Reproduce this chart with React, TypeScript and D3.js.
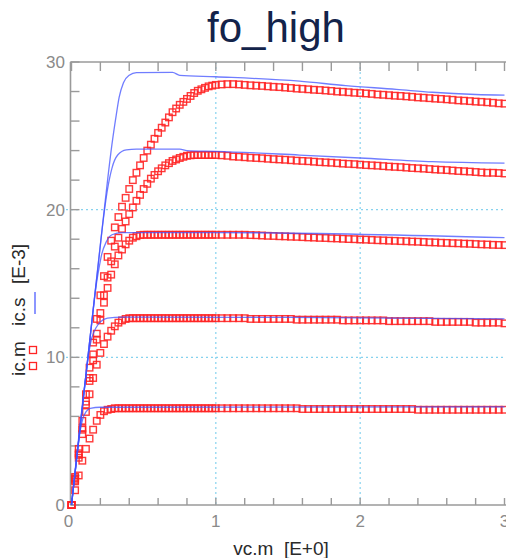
import React from 'react';
import * as d3 from 'd3';

// vce sweep of the measurement (finer steps in the knee region)
const vce = [
  0, 0.025, 0.05, 0.075, 0.1, 0.125, 0.15, 0.175, 0.2, 0.225,
  0.25, 0.275, 0.3, 0.325, 0.35, 0.375, 0.4, 0.425, 0.45, 0.475,
  0.5, 0.525, 0.55, 0.575, 0.6, 0.625, 0.65, 0.675, 0.7, 0.725,
  0.75, 0.775, 0.8, 0.825, 0.85, 0.875, 0.9, 0.925, 0.95, 0.975,
  1.0, 1.04, 1.08, 1.12, 1.16, 1.2, 1.24, 1.28, 1.32, 1.36,
  1.4, 1.44, 1.48, 1.52, 1.56, 1.6, 1.64, 1.68, 1.72, 1.76,
  1.8, 1.84, 1.88, 1.92, 1.96, 2.0, 2.04, 2.08, 2.12, 2.16,
  2.2, 2.24, 2.28, 2.32, 2.36, 2.4, 2.44, 2.48, 2.52, 2.56,
  2.6, 2.64, 2.68, 2.72, 2.76, 2.8, 2.84, 2.88, 2.92, 2.96,
  3.0,
];

// measured ic [E-3], one array per base current step
const icM1 = [
  0, 1.0, 2.0, 3.0, 3.8, 4.5, 5.1, 5.7, 6.1, 6.35,
  6.45, 6.5, 6.55, 6.55, 6.55, 6.55, 6.55, 6.55, 6.55, 6.55,
  6.55, 6.55, 6.55, 6.55, 6.55, 6.55, 6.55, 6.55, 6.55, 6.55,
  6.55, 6.55, 6.55, 6.55, 6.55, 6.55, 6.55, 6.55, 6.55, 6.55,
  6.55, 6.55, 6.55, 6.55, 6.55, 6.55, 6.55, 6.55, 6.55, 6.55,
  6.55, 6.55, 6.55, 6.55, 6.55, 6.5, 6.5, 6.5, 6.5, 6.5,
  6.5, 6.5, 6.5, 6.5, 6.5, 6.5, 6.5, 6.5, 6.5, 6.5,
  6.5, 6.5, 6.5, 6.5, 6.5, 6.45, 6.45, 6.45, 6.45, 6.45,
  6.45, 6.45, 6.45, 6.45, 6.45, 6.45, 6.45, 6.45, 6.45, 6.45,
  6.45,
];
const icM2 = [
  0, 1.6, 3.2, 4.8, 6.3, 7.5, 8.6, 9.5, 10.3, 10.9,
  11.4, 11.8, 12.1, 12.35, 12.5, 12.6, 12.65, 12.65, 12.65, 12.65,
  12.65, 12.65, 12.65, 12.65, 12.65, 12.65, 12.65, 12.65, 12.65, 12.65,
  12.65, 12.65, 12.65, 12.65, 12.65, 12.65, 12.65, 12.65, 12.65, 12.65,
  12.65, 12.65, 12.65, 12.65, 12.65, 12.65, 12.6, 12.6, 12.6, 12.6,
  12.6, 12.6, 12.6, 12.6, 12.55, 12.55, 12.55, 12.55, 12.55, 12.55,
  12.55, 12.55, 12.5, 12.5, 12.5, 12.5, 12.5, 12.5, 12.5, 12.5,
  12.45, 12.45, 12.45, 12.45, 12.45, 12.45, 12.45, 12.45, 12.4, 12.4,
  12.4, 12.4, 12.4, 12.4, 12.4, 12.35, 12.35, 12.35, 12.35, 12.35,
  12.3,
];
const icM3 = [
  0, 1.7, 3.4, 5.1, 6.8, 8.4, 9.8, 11.2, 12.5, 13.7,
  14.7, 15.6, 16.3, 16.9, 17.3, 17.65, 17.9, 18.1, 18.2, 18.28,
  18.3, 18.3, 18.3, 18.3, 18.3, 18.3, 18.3, 18.3, 18.3, 18.3,
  18.3, 18.3, 18.3, 18.3, 18.3, 18.3, 18.3, 18.3, 18.3, 18.3,
  18.3, 18.3, 18.3, 18.3, 18.3, 18.3, 18.28, 18.27, 18.25, 18.23,
  18.22, 18.2, 18.19, 18.17, 18.16, 18.14, 18.12, 18.11, 18.09, 18.08,
  18.06, 18.05, 18.03, 18.01, 18.0, 17.98, 17.97, 17.95, 17.93, 17.92,
  17.9, 17.89, 17.87, 17.86, 17.84, 17.83, 17.81, 17.79, 17.78, 17.76,
  17.75, 17.73, 17.72, 17.7, 17.69, 17.67, 17.65, 17.64, 17.62, 17.61,
  17.6,
];
const icM4 = [
  0, 1.8, 3.5, 5.2, 7.0, 8.6, 10.2, 11.6, 13.0, 14.2,
  15.4, 16.5, 17.5, 18.1, 18.7, 19.2, 19.7, 20.15, 20.6, 21.0,
  21.4, 21.75, 22.1, 22.35, 22.6, 22.8, 23.0, 23.15, 23.3, 23.4,
  23.5, 23.58, 23.65, 23.68, 23.7, 23.7, 23.7, 23.7, 23.7, 23.7,
  23.7, 23.68, 23.65, 23.6, 23.58, 23.55, 23.52, 23.5, 23.48, 23.45,
  23.42, 23.4, 23.38, 23.35, 23.32, 23.3, 23.28, 23.25, 23.22, 23.2,
  23.18, 23.15, 23.12, 23.1, 23.08, 23.05, 23.02, 23.0, 22.98, 22.95,
  22.92, 22.9, 22.88, 22.85, 22.82, 22.8, 22.78, 22.75, 22.72, 22.7,
  22.68, 22.65, 22.62, 22.6, 22.58, 22.55, 22.52, 22.5, 22.5, 22.48,
  22.45,
];
const icM5 = [
  0, 1.9, 3.8, 5.7, 7.5, 9.3, 11.0, 12.6, 14.2, 15.5,
  16.8, 17.9, 18.8, 19.5, 20.2, 20.8, 21.4, 22.0, 22.5, 23.0,
  23.5, 24.0, 24.4, 24.8, 25.2, 25.55, 25.9, 26.25, 26.6, 26.85,
  27.1, 27.3, 27.5, 27.7, 27.9, 28.05, 28.15, 28.25, 28.35, 28.4,
  28.45, 28.48, 28.5, 28.5, 28.48, 28.45, 28.42, 28.4, 28.38, 28.35,
  28.32, 28.3, 28.27, 28.24, 28.2, 28.18, 28.15, 28.12, 28.1, 28.07,
  28.04, 28.0, 27.98, 27.95, 27.92, 27.9, 27.87, 27.84, 27.8, 27.78,
  27.75, 27.72, 27.7, 27.67, 27.64, 27.6, 27.58, 27.55, 27.52, 27.5,
  27.47, 27.44, 27.4, 27.38, 27.35, 27.32, 27.3, 27.27, 27.24, 27.2,
  27.18,
];
const measured = [icM1, icM2, icM3, icM4, icM5];

// simulated ic.s curves (vertices)
const icS1x = [0, 0.04, 0.06, 0.08, 0.1, 0.13, 0.2, 3.0];
const icS1y = [0, 3.5, 5.0, 5.9, 6.3, 6.55, 6.62, 6.65];
const icS2x = [0, 0.1, 0.12, 0.14, 0.17, 0.2, 0.25, 0.35, 1.5, 3.0];
const icS2y = [0, 8.8, 10.3, 11.3, 12.0, 12.4, 12.65, 12.72, 12.7, 12.6];
const icS3x = [0, 0.15, 0.17, 0.19, 0.21, 0.24, 0.28, 0.35, 1.0, 3.0];
const icS3y = [0, 13.2, 14.8, 16.0, 17.0, 17.8, 18.3, 18.45, 18.45, 18.1];
const icS4x = [0, 0.19, 0.22, 0.25, 0.28, 0.32, 0.38, 0.45, 0.75, 0.8, 1.0, 1.58, 2.0, 2.5, 3.0];
const icS4y = [0, 16.7, 19.3, 21.4, 22.8, 23.7, 24.05, 24.1, 24.1, 24.0, 23.95, 23.7, 23.5, 23.25, 23.15];
const icS5x = [0, 0.22, 0.25, 0.28, 0.31, 0.33, 0.36, 0.4, 0.45, 0.7, 0.75, 1.0, 1.58, 1.9, 2.25, 2.5, 2.8, 3.0];
const icS5y = [0, 19.4, 22.0, 24.4, 26.4, 27.6, 28.6, 29.1, 29.28, 29.3, 29.1, 29.0, 28.7, 28.4, 28.15, 27.95, 27.8, 27.75];
const simulated = [
  [icS1x, icS1y], [icS2x, icS2y], [icS3x, icS3y], [icS4x, icS4y], [icS5x, icS5y],
];

const xTickLabels = [0, 1, 2, 3];
const yTickLabels = [0, 10, 20, 30];
const xGrid = [1, 2];
const yGrid = [10, 20];

const FONT = "'Liberation Sans', Arial, sans-serif";
const AXIS = '#9a9a9a';
const RED = '#ff2424';
const BLUE = '#4051ff';
const GRID = '#86d2ee';
const SQ = 6.5;

export default function App() {
  const x = d3.scaleLinear().domain([0, 3]).range([71.5, 504.5]);
  const y = d3.scaleLinear().domain([0, 30]).range([505, 62]);
  const [left, right] = [70.5, 506];
  const [top, bottom] = [62, 505];

  const line = d3.line<[number, number]>()
    .x(d => x(d[0]))
    .y(d => y(d[1]))
    .curve(d3.curveMonotoneX);

  return (
    <svg width={506} height={558} style={{ position: 'absolute', left: 0, top: 0, background: '#fff' }}>
      {/* title */}
      <text x={276} y={42} textAnchor="middle" fontFamily={FONT} fontSize={42} fill="#13234a">fo_high</text>

      {/* grid */}
      {xGrid.map(v => (
        <line key={'gx' + v} x1={x(v)} x2={x(v)} y1={top} y2={bottom} stroke={GRID} strokeWidth={1.2} strokeDasharray="2,3" />
      ))}
      {yGrid.map(v => (
        <line key={'gy' + v} x1={66} x2={right} y1={y(v)} y2={y(v)} stroke={GRID} strokeWidth={1.2} strokeDasharray="2,3" />
      ))}

      {/* axes frame */}
      <line x1={left} x2={left} y1={top} y2={bottom} stroke={AXIS} strokeWidth={1.6} />
      <line x1={left} x2={right} y1={top} y2={top} stroke={AXIS} strokeWidth={1.6} />
      <line x1={left} x2={right} y1={bottom} y2={bottom} stroke={AXIS} strokeWidth={1.6} />

      {x.ticks(15).map(t => (
        <g key={'tx' + t}>
          <line x1={x(t)} x2={x(t)} y1={bottom} y2={bottom - 7} stroke={AXIS} strokeWidth={1.4} />
          <line x1={x(t)} x2={x(t)} y1={top} y2={top + 9} stroke={AXIS} strokeWidth={1.4} />
        </g>
      ))}
      {y.ticks(15).map(t => (
        <line key={'ty' + t} x1={left} x2={left + 9} y1={y(t)} y2={y(t)} stroke={AXIS} strokeWidth={1.4} />
      ))}

      {/* tick labels */}
      {yTickLabels.map(t => (
        <text key={'ly' + t} x={65} y={y(t)} dy="0.35em" textAnchor="end" fontFamily={FONT} fontSize={17} fill="#8a8a8a">{t}</text>
      ))}
      {xTickLabels.map(t => (
        <text key={'lx' + t} x={x(t) - (t === 0 ? 3 : 0)} y={527} textAnchor="middle" fontFamily={FONT} fontSize={17} fill="#8a8a8a">{t}</text>
      ))}

      {/* axis titles */}
      <text x={281} y={555} textAnchor="middle" fontFamily={FONT} fontSize={19} fill="#2a2a2a" style={{ whiteSpace: 'pre' }}>{'vc.m  [E+0]'}</text>
      <g fontFamily={FONT} fontSize={19} fill="#2a2a2a">
        <text transform="translate(25,376) rotate(-90)">ic.m</text>
        <text transform="translate(25,326) rotate(-90)">ic.s</text>
        <text transform="translate(25,284) rotate(-90)">[E-3]</text>
      </g>
      <rect x={33 - 3.5} y={350 - 3.5} width={7} height={7} fill="none" stroke={RED} strokeWidth={1.3} />
      <rect x={33 - 3.5} y={366 - 3.5} width={7} height={7} fill="none" stroke={RED} strokeWidth={1.3} />
      <line x1={35} x2={35} y1={292} y2={314} stroke={BLUE} strokeWidth={1.5} opacity={0.8} />

      {/* measured: red squares */}
      {measured.map((s, i) => (
        <g key={'m' + i}>
          {s.map((v, j) => (
            <rect key={j} x={x(vce[j]) - SQ / 2} y={y(v) - SQ / 2} width={SQ} height={SQ}
              fill="none" stroke={RED} strokeWidth={1.4} opacity={0.9} />
          ))}
        </g>
      ))}

      {/* simulated: blue lines */}
      {simulated.map(([xs, ys], i) => (
        <path key={'s' + i} d={line(xs.map((v, j) => [v, ys[j]] as [number, number])) || ''}
          fill="none" stroke={BLUE} strokeWidth={1.3} opacity={0.75} />
      ))}
    </svg>
  );
}
